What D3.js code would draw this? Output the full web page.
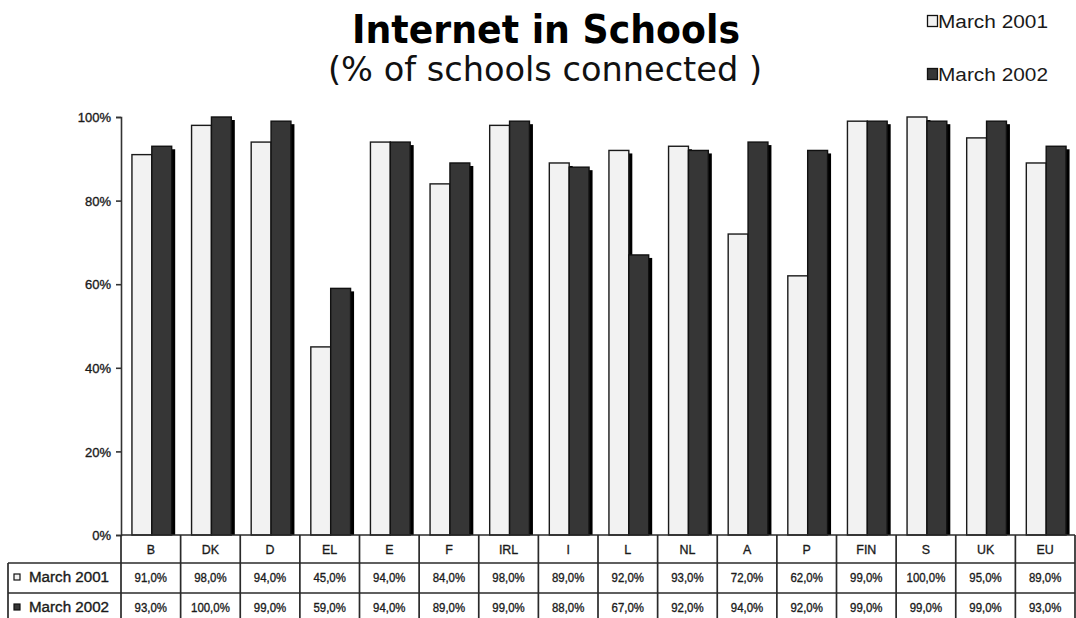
<!DOCTYPE html>
<html>
<head>
<meta charset="utf-8">
<script src="https://cdn.jsdelivr.net/npm/d3@7"></script>
<style>
  html, body { margin: 0; padding: 0; background: #fff; }
  svg { display: block; }
</style>
</head>
<body>
<svg id="chart" width="1076" height="618"></svg>
<script>
// Share of schools connected to the Internet, by country
const categories = ["B", "DK", "D", "EL", "E", "F", "IRL", "I", "L", "NL", "A", "P", "FIN", "S", "UK", "EU"];
const seriesNames = ["March 2001", "March 2002"];
const march2001 = [91, 98, 94, 45, 94, 84, 98, 89, 92, 93, 72, 62, 99, 100, 95, 89];
const march2002 = [93, 100, 99, 59, 94, 89, 99, 88, 67, 92, 94, 92, 99, 99, 99, 93];
const yTicks = [0, 20, 40, 60, 80, 100];

const seriesValues = [march2001, march2002];
const fills = ["#f2f2f2", "#363636"];
const strokes = ["#1a1a1a", "#111"];

const svg = d3.select("#chart");
const plotLeft = 121, plotRight = 1075, plotTop = 117, plotBottom = 535;
const rowH = [28, 30, 28];
const labelLeft = 8;

const x = d3.scaleBand().domain(categories).range([plotLeft, plotRight]).padding(0);
const xs = d3.scaleBand().domain(seriesNames).range([0, x.bandwidth()]).paddingInner(0).paddingOuter(0.5);
const y = d3.scaleLinear().domain([0, 100]).range([plotBottom, plotTop]);

const tickFont = "'Liberation Sans', Arial, sans-serif";

// squeezed small text helper (narrow, slightly heavy table lettering)
function narrowText(g, tx, ty, str, size, squeeze, anchor) {
  return g.append("text")
    .attr("transform", `translate(${tx},${ty}) scale(${squeeze},1)`)
    .attr("text-anchor", anchor || "middle")
    .attr("font-family", tickFont)
    .attr("font-size", size)
    .attr("fill", "#1a1a1a")
    .attr("stroke", "#1a1a1a")
    .attr("stroke-width", 0.35)
    .text(str);
}

// Title block
svg.append("text")
  .attr("x", 546).attr("y", 43)
  .attr("text-anchor", "middle")
  .attr("font-family", "'DejaVu Sans', Verdana, sans-serif")
  .attr("font-weight", "bold")
  .attr("font-size", 39)
  .attr("textLength", 388).attr("lengthAdjust", "spacingAndGlyphs")
  .attr("fill", "#000")
  .text("Internet in Schools");

svg.append("text")
  .attr("x", 545).attr("y", 81)
  .attr("text-anchor", "middle")
  .attr("font-family", "'DejaVu Sans', Verdana, sans-serif")
  .attr("font-size", 33)
  .attr("textLength", 434).attr("lengthAdjust", "spacingAndGlyphs")
  .attr("fill", "#111")
  .text("(% of schools connected )");

// Legend
const legend = svg.append("g");
seriesNames.forEach((name, i) => {
  const ly = 22 + i * 53;
  legend.append("rect")
    .attr("x", 927.5).attr("y", ly - 6.5)
    .attr("width", 10).attr("height", 11)
    .attr("fill", fills[i]).attr("stroke", "#111").attr("stroke-width", 1.3);
  legend.append("text")
    .attr("x", 938).attr("y", ly + 6)
    .attr("font-family", tickFont)
    .attr("font-size", 18)
    .attr("textLength", 110).attr("lengthAdjust", "spacingAndGlyphs")
    .attr("fill", "#1a1a1a")
    .text(name);
});

// Y axis
const yAxis = d3.axisLeft(y).tickValues(yTicks).tickSize(5).tickFormat(d => d + "%");
const yg = svg.append("g").attr("transform", `translate(${plotLeft},0)`).call(yAxis);
yg.select(".domain").attr("stroke", "#333").attr("stroke-width", 1.6);
yg.selectAll(".tick line").attr("stroke", "#333").attr("stroke-width", 1.6);
yg.selectAll(".tick text")
  .attr("font-family", tickFont).attr("font-size", 13).attr("fill", "#1a1a1a")
  .attr("stroke", "#1a1a1a").attr("stroke-width", 0.35)
  .attr("x", -10).attr("dy", "0.36em");

// Bars with drop shadow
const groups = svg.append("g").selectAll("g")
  .data(categories)
  .join("g")
  .attr("transform", d => `translate(${x(d) + 1},0)`);

seriesNames.forEach((name, si) => {
  const vals = seriesValues[si];
  groups.append("rect")
    .attr("x", xs(name) + 3.5)
    .attr("y", (d, i) => y(vals[i]) + 3)
    .attr("width", xs.bandwidth())
    .attr("height", (d, i) => plotBottom - y(vals[i]) - 3)
    .attr("fill", "#000");
});
seriesNames.forEach((name, si) => {
  const vals = seriesValues[si];
  groups.append("rect")
    .attr("x", xs(name))
    .attr("y", (d, i) => y(vals[i]))
    .attr("width", xs.bandwidth())
    .attr("height", (d, i) => plotBottom - y(vals[i]))
    .attr("fill", fills[si])
    .attr("stroke", strokes[si])
    .attr("stroke-width", 1.4);
});

// Data table under the plot
const table = svg.append("g");
const lineColor = "#2a2a2a";
const r0 = plotBottom, r1 = r0 + rowH[0], r2 = r1 + rowH[1], r3 = r2 + rowH[2] + 4;

const rules = table.append("g");
rules.append("line").attr("x1", plotLeft).attr("x2", plotRight).attr("y1", r0).attr("y2", r0);
rules.append("line").attr("x1", labelLeft).attr("x2", plotRight).attr("y1", r1).attr("y2", r1);
rules.append("line").attr("x1", labelLeft).attr("x2", plotRight).attr("y1", r2).attr("y2", r2);
rules.append("line").attr("x1", labelLeft).attr("x2", labelLeft).attr("y1", r1).attr("y2", r3);
categories.forEach(c => {
  rules.append("line").attr("x1", x(c)).attr("x2", x(c)).attr("y1", r0).attr("y2", r3);
});
rules.append("line").attr("x1", plotRight).attr("x2", plotRight).attr("y1", r0).attr("y2", r3);
rules.selectAll("line").attr("stroke", lineColor).attr("stroke-width", 1.7);

// category header
categories.forEach(c => {
  narrowText(table, x(c) + x.bandwidth() / 2, r0 + 19, c, 13.5, 0.92);
});

// value rows
const fmt = v => v.toFixed(1).replace(".", ",") + "%";
seriesNames.forEach((name, si) => {
  const top = si === 0 ? r1 : r2;
  const cy = top + 19;
  table.append("rect")
    .attr("x", 14).attr("y", cy - 8)
    .attr("width", 6).attr("height", 6)
    .attr("fill", fills[si]).attr("stroke", "#111").attr("stroke-width", 1.2);
  table.append("text")
    .attr("x", 29).attr("y", cy)
    .attr("font-family", tickFont).attr("font-size", 14)
    .attr("textLength", 80).attr("lengthAdjust", "spacingAndGlyphs")
    .attr("fill", "#1a1a1a").attr("stroke", "#1a1a1a").attr("stroke-width", 0.35)
    .text(name);
  categories.forEach((c, i) => {
    narrowText(table, x(c) + x.bandwidth() / 2, cy, fmt(seriesValues[si][i]), 13, 0.88);
  });
});
</script>
</body>
</html>
